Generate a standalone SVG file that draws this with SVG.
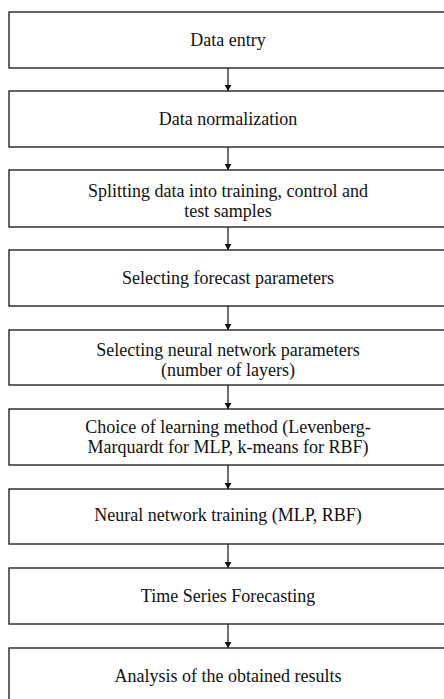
<svg xmlns="http://www.w3.org/2000/svg" width="444" height="699" viewBox="0 0 444 699">
<style>
.box{fill:#fff;stroke:#111;stroke-width:1.3}
.t{font-family:"Liberation Serif","Times New Roman",serif;font-size:18px;fill:#111;text-anchor:middle}
.c{stroke:#222;stroke-width:1.3;fill:none}
</style>
<defs>
<marker id="ah" markerWidth="6" markerHeight="7" refX="6" refY="3.5" orient="auto" markerUnits="userSpaceOnUse">
<path d="M0,0 L6,3.5 L0,7 Z" fill="#111"/>
</marker>
</defs>
<rect width="444" height="699" fill="#fff"/>
<g id="connectors">
<line class="c" x1="228" y1="68" x2="228" y2="91" marker-end="url(#ah)"/>
<line class="c" x1="228" y1="147" x2="228" y2="170" marker-end="url(#ah)"/>
<line class="c" x1="228" y1="227" x2="228" y2="250" marker-end="url(#ah)"/>
<line class="c" x1="228" y1="306" x2="228" y2="330" marker-end="url(#ah)"/>
<line class="c" x1="228" y1="385" x2="228" y2="409" marker-end="url(#ah)"/>
<line class="c" x1="228" y1="465" x2="228" y2="489" marker-end="url(#ah)"/>
<line class="c" x1="228" y1="544" x2="228" y2="568" marker-end="url(#ah)"/>
<line class="c" x1="228" y1="624" x2="228" y2="648" marker-end="url(#ah)"/>
</g>
<g id="n1"><rect class="box" x="9" y="12" width="438" height="56"/><text class="t" x="228" y="46">Data entry</text></g>
<g id="n2"><rect class="box" x="9" y="91" width="438" height="56"/><text class="t" x="228" y="125">Data normalization</text></g>
<g id="n3"><rect class="box" x="9" y="170" width="438" height="57"/><text class="t" x="228" y="197">Splitting data into training, control and</text><text class="t" x="228" y="217">test samples</text></g>
<g id="n4"><rect class="box" x="9" y="250" width="438" height="56"/><text class="t" x="228" y="284">Selecting forecast parameters</text></g>
<g id="n5"><rect class="box" x="9" y="330" width="438" height="55"/><text class="t" x="228" y="356">Selecting neural network parameters</text><text class="t" x="228" y="376">(number of layers)</text></g>
<g id="n6"><rect class="box" x="9" y="409" width="438" height="56"/><text class="t" x="228" y="433">Choice of learning method (Levenberg-</text><text class="t" x="228" y="453">Marquardt for MLP, k-means for RBF)</text></g>
<g id="n7"><rect class="box" x="9" y="489" width="438" height="55"/><text class="t" x="228" y="521">Neural network training (MLP, RBF)</text></g>
<g id="n8"><rect class="box" x="9" y="568" width="438" height="56"/><text class="t" x="228" y="602">Time Series Forecasting</text></g>
<g id="n9"><rect class="box" x="9" y="648" width="438" height="60"/><text class="t" x="228" y="682">Analysis of the obtained results</text></g>
</svg>
